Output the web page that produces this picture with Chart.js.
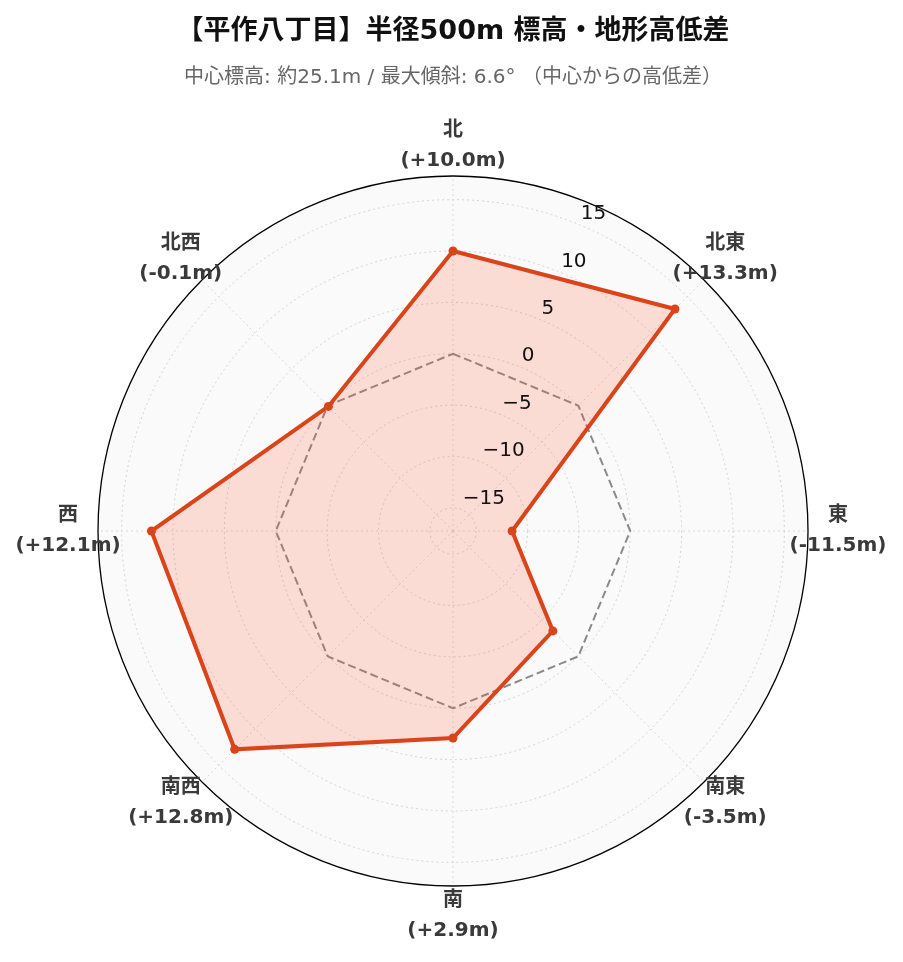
<!DOCTYPE html>
<html>
<head>
<meta charset="utf-8">
<script src="https://cdn.jsdelivr.net/npm/chart.js@4.4.1/dist/chart.umd.min.js"></script>
<style>
html, body { margin: 0; padding: 0; background: #fff; }
canvas { display: block; }
</style>
</head>
<body>
<canvas id="radarChart" width="903" height="962"></canvas>
<script>
// data
let directions = ['北', '北東', '東', '南東', '南', '南西', '西', '北西'];
let heightDiff = [10.0, 13.3, -11.5, -3.5, 2.9, 12.8, 12.1, -0.1];
let baseLine = [0, 0, 0, 0, 0, 0, 0, 0];
let tickValues = [-15, -10, -5, 0, 5, 10, 15];
let rMin = -17.25;
let rMax = 17.3;

let titleText = '【平作八丁目】半径500m 標高・地形高低差';
let subText = '中心標高: 約25.1m / 最大傾斜: 6.6° （中心からの高低差）';

function diffLabel(v) {
    let s = v >= 0 ? '+' + v.toFixed(1) : v.toFixed(1);
    return '(' + s + 'm)';
}

// draws the disk, outer ring, tick labels and direction labels
const polarDecor = {
    id: 'polarDecor',
    beforeDraw(chart) {
        let r = chart.scales.r;
        let ctx = chart.ctx;
        ctx.save();
        ctx.beginPath();
        ctx.arc(r.xCenter, r.yCenter, r.drawingArea, 0, Math.PI * 2);
        ctx.fillStyle = '#fafafa';
        ctx.fill();
        ctx.restore();
    },
    afterDatasetsDraw(chart) {
        let r = chart.scales.r;
        let ctx = chart.ctx;
        ctx.save();
        ctx.beginPath();
        ctx.arc(r.xCenter, r.yCenter, r.drawingArea, 0, Math.PI * 2);
        ctx.strokeStyle = '#000';
        ctx.lineWidth = 1.3;
        ctx.stroke();

        // radial tick labels along 22.5deg
        let a = Math.PI / 8;
        ctx.font = "20px 'DejaVu Sans'";
        ctx.fillStyle = '#111';
        ctx.textAlign = 'left';
        ctx.textBaseline = 'middle';
        tickValues.forEach(function (v) {
            let d = r.getDistanceFromCenterForValue(v);
            let x = r.xCenter + d * Math.sin(a) + 1;
            let y = r.yCenter - d * Math.cos(a) - 11;
            let txt = v < 0 ? '\u2212' + Math.abs(v) : String(v);
            ctx.fillText(txt, x, y);
        });

        // direction labels
        ctx.font = "bold 20px 'DejaVu Sans', 'Noto Sans CJK JP'";
        ctx.fillStyle = '#3a3a3a';
        ctx.textAlign = 'center';
        for (let i = 0; i < directions.length; i++) {
            let p = r.getPointPosition(i, r.drawingArea + 30);
            ctx.fillText(directions[i], p.x, p.y - 15);
            ctx.fillText(diffLabel(heightDiff[i]), p.x, p.y + 15);
        }
        ctx.restore();
    }
};

let ctx = document.getElementById('radarChart').getContext('2d');
let myChart = new Chart(ctx, {
    type: 'radar',
    data: {
        labels: directions,
        datasets: [{
            label: '高低差',
            data: heightDiff,
            borderColor: '#d9441a',
            backgroundColor: 'rgba(255, 90, 50, 0.19)',
            borderWidth: 4,
            pointRadius: 4.5,
            pointBackgroundColor: '#d9441a',
            pointBorderWidth: 0,
            fill: 'start',
            tension: 0
        }, {
            label: '基準',
            data: baseLine,
            borderColor: '#8a8a8a',
            borderWidth: 2,
            borderDash: [8, 4],
            pointRadius: 0,
            fill: false
        }]
    },
    options: {
        responsive: false,
        animation: false,
        layout: { padding: { left: 98, right: 95, top: 0, bottom: 75 } },
        plugins: {
            legend: { display: false },
            tooltip: { enabled: false },
            title: {
                display: true,
                text: titleText,
                color: '#111',
                font: { family: "'DejaVu Sans', 'Noto Sans CJK JP'", size: 27, weight: 'bold' },
                padding: { top: 16, bottom: 15 }
            },
            subtitle: {
                display: true,
                text: subText,
                color: '#666',
                font: { family: "'DejaVu Sans', 'Noto Sans CJK JP'", size: 20 },
                padding: { top: 2.6, bottom: 85.6 }
            }
        },
        scales: {
            r: {
                min: rMin,
                max: rMax,
                ticks: { display: false, stepSize: 5, includeBounds: false },
                pointLabels: { display: false },
                grid: { circular: true, color: '#d4d4d4', lineWidth: 1 },
                border: { dash: [2, 3] },
                angleLines: { color: '#dadada', lineWidth: 1, borderDash: [2, 3] }
            }
        }
    },
    plugins: [polarDecor]
});
</script>
</body>
</html>
